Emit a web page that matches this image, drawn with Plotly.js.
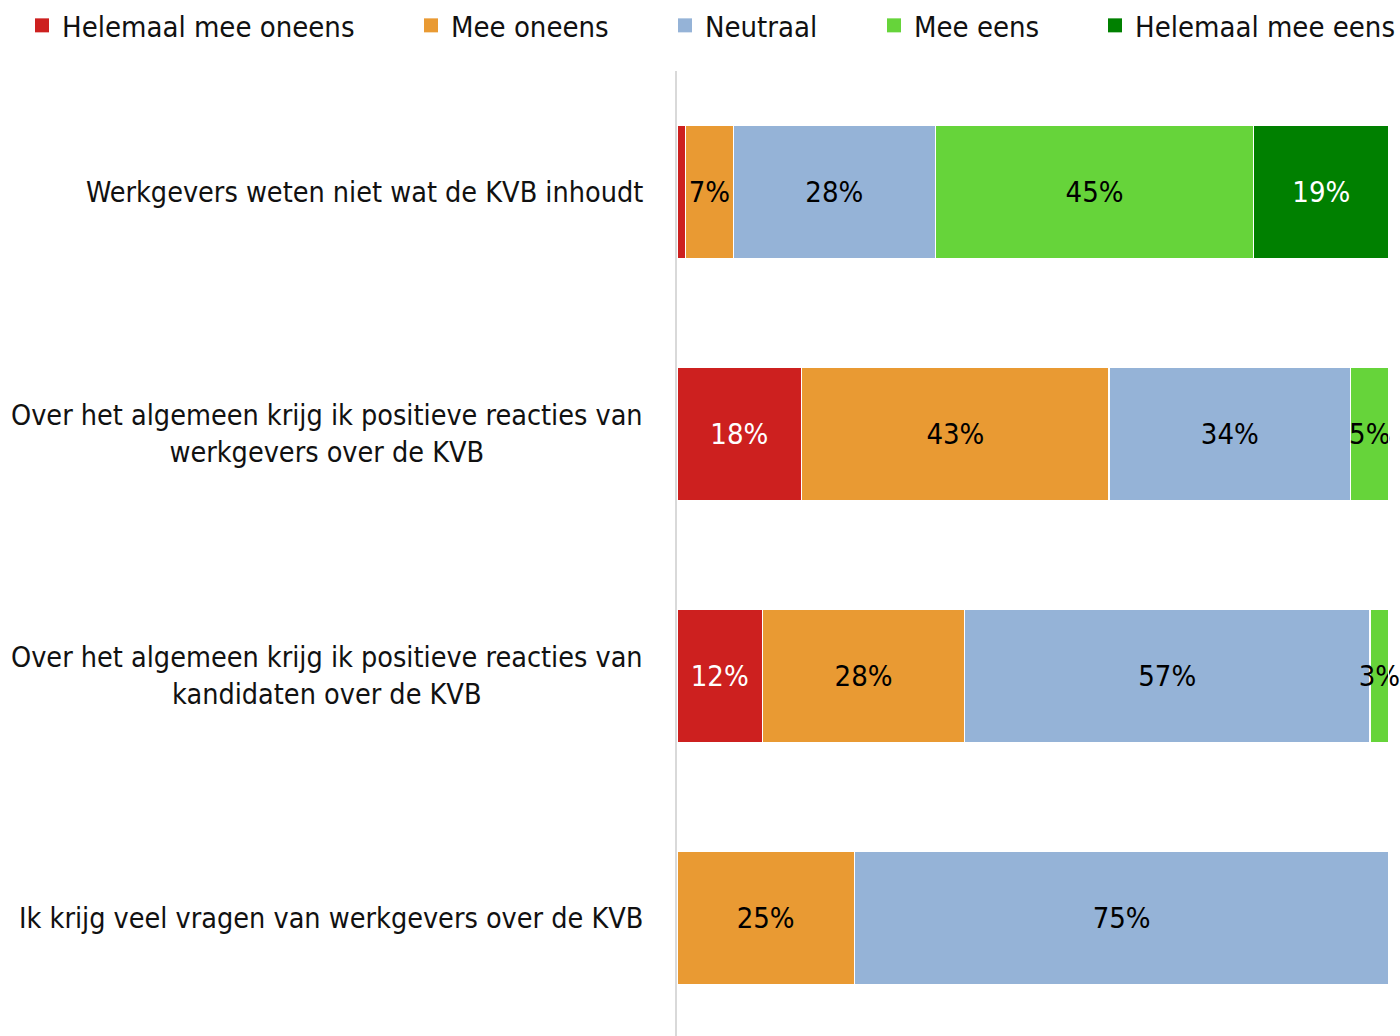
<!DOCTYPE html>
<html>
<head>
<meta charset="utf-8">
<script src="https://cdn.plot.ly/plotly-3.0.1.min.js"></script>
<style>html,body{margin:0;padding:0;background:#fff;overflow:hidden;}#chart{width:1400px;height:1039px;}</style>
</head>
<body>
<div id="chart"></div>
<script>
// ---- data ----
const categories = [
  "Werkgevers weten niet wat de KVB inhoudt",
  "Over het algemeen krijg ik positieve reacties van<br>werkgevers over de KVB",
  "Over het algemeen krijg ik positieve reacties van<br>kandidaten over de KVB",
  "Ik krijg veel vragen van werkgevers over de KVB"
];
const seriesNames = ["Helemaal mee oneens", "Mee oneens", "Neutraal", "Mee eens", "Helemaal mee eens"];
const helemaalMeeOneens = [1.2, 17.5, 12.0, 0];
const meeOneens = [6.7, 43.2, 28.4, 24.9];
const neutraal = [28.4, 33.9, 56.9, 75.1];
const meeEens = [44.7, 5.4, 2.7, 0];
const helemaalMeeEens = [19.0, 0, 0, 0];
const seriesColors = ["#CD201F", "#E99A33", "#95B3D7", "#66D43A", "#008000"];
const labelColors = ["#ffffff", "#000000", "#000000", "#000000", "#ffffff"];
const legendTextLeftPx = [62, 451, 705, 914, 1135];

const series = [helemaalMeeOneens, meeOneens, neutraal, meeEens, helemaalMeeEens];

const FONT = "'DejaVu Sans Condensed', 'Liberation Sans Narrow', sans-serif";
const W = 1400, H = 1039;
const M = {l: 677, r: 11, t: 67, b: 0};
const plotW = W - M.l - M.r;
const plotH = H - M.t - M.b;
const toPaperX = px => (px - M.l) / plotW;

const traces = [];
series.forEach((vals, i) => {
  const legendId = i === 0 ? 'legend' : 'legend' + (i + 1);
  traces.push({
    type: 'bar', orientation: 'h', name: seriesNames[i],
    y: categories, x: vals,
    marker: {color: seriesColors[i], line: {color: '#ffffff', width: 1.5}},
    text: vals.map(v => v >= 2 ? Math.round(v) + '%' : ''),
    textposition: 'inside', insidetextanchor: 'middle', textangle: 0,
    constraintext: 'none', cliponaxis: false,
    insidetextfont: {family: FONT, size: 29, color: labelColors[i]},
    hoverinfo: 'name+x', showlegend: false
  });
  // legend entry
  traces.push({
    type: 'scatter', mode: 'markers', name: seriesNames[i],
    x: [null], y: [null],
    marker: {symbol: 'square', size: 14, color: seriesColors[i]},
    legend: legendId, showlegend: true, hoverinfo: 'skip'
  });
});

const annotations = categories.map(c => ({
  xref: 'paper', yref: 'y', x: toPaperX(645), y: c,
  xanchor: 'right', yanchor: 'middle', align: 'center',
  text: c, showarrow: false,
  font: {family: FONT, size: 28.5, color: '#111111'}
}));

const layout = {
  width: W, height: H,
  margin: M,
  paper_bgcolor: '#ffffff', plot_bgcolor: '#ffffff',
  barmode: 'stack', bargap: 0.45,
  font: {family: FONT, size: 29, color: '#111111'},
  xaxis: {range: [0, 100], visible: false, showgrid: false, zeroline: false, fixedrange: true},
  yaxis: {
    autorange: 'reversed', type: 'category',
    showline: true, linecolor: '#d9d9d9', linewidth: 2,
    showgrid: false, zeroline: false, ticks: '', showticklabels: false
  },
  annotations: annotations,
  showlegend: true
};
legendTextLeftPx.forEach((px, i) => {
  const key = i === 0 ? 'legend' : 'legend' + (i + 1);
  layout[key] = {
    orientation: 'h', x: toPaperX(px - 40), xanchor: 'left',
    y: 1 + (M.t - 21) / plotH, yanchor: 'middle',
    font: {family: FONT, size: 29, color: '#111111'},
    bgcolor: 'rgba(0,0,0,0)', borderwidth: 0
  };
});

Plotly.newPlot('chart', traces, layout, {displayModeBar: false, staticPlot: true});
</script>
</body>
</html>
